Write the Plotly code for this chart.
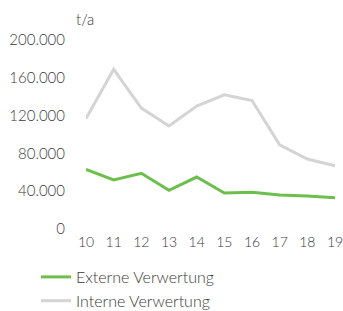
import plotly.graph_objects as go

years = [10, 11, 12, 13, 14, 15, 16, 17, 18, 19]
year_labels = ["10", "11", "12", "13", "14", "15", "16", "17", "18", "19"]
externe = [63000, 52000, 59000, 41000, 55000, 38000, 39000, 36000, 35000, 33000]
interne = [117000, 169000, 128000, 109000, 130000, 142000, 136000, 89000, 74000, 67000]
y_ticks = [0, 40000, 80000, 120000, 160000, 200000]

FONT = "Lato"
TEXT = "#3a3a3a"
W, H = 343, 311
L, R, T, B = 86, 8, 40, 82
plot_w = W - L - R
plot_h = H - T - B

fig = go.Figure()
fig.add_trace(go.Scatter(x=years, y=externe, mode="lines", name="Externe Verwertung",
                         line=dict(color="#6cbf4c", width=3)))
fig.add_trace(go.Scatter(x=years, y=interne, mode="lines", name="Interne Verwertung",
                         line=dict(color="#d4d4d4", width=3)))

fig.update_layout(
    width=W, height=H,
    margin=dict(l=L, r=R, t=T, b=B, autoexpand=False),
    paper_bgcolor="white", plot_bgcolor="white",
    separators=",.",
    font=dict(family=FONT, size=15, color=TEXT, weight=300),
    showlegend=True,
    legend=dict(orientation="v", x=(36 - L) / plot_w, xanchor="left",
                y=-31 / plot_h, yanchor="top",
                font=dict(size=16, color=TEXT, weight=300), itemwidth=30, tracegroupgap=0,
                bgcolor="rgba(0,0,0,0)"),
    xaxis=dict(range=[10, 19], tickvals=years, ticktext=year_labels, showgrid=False,
               zeroline=False, showline=False, ticks="", ticklabeloverflow="allow",
               ticklabelstandoff=3,
               tickfont=dict(size=14, color=TEXT, weight=300)),
    yaxis=dict(range=[0, 200000], tickvals=y_ticks, tickformat=",d", showgrid=False,
               zeroline=False, showline=False, ticks="", ticklabelstandoff=20,
               ticklabeloverflow="allow",
               tickfont=dict(size=15, color=TEXT, weight=300)),
    annotations=[dict(text="t/a", x=(85 - L) / plot_w, y=(229 - 19) / plot_h,
                      xref="paper", yref="paper", xanchor="center", yanchor="middle",
                      showarrow=False, font=dict(size=15, color=TEXT, weight=300))],
)

fig.write_html("out.html", config={"displayModeBar": False},
               post_script="document.body.style.margin='0';document.body.style.overflow='hidden';")
